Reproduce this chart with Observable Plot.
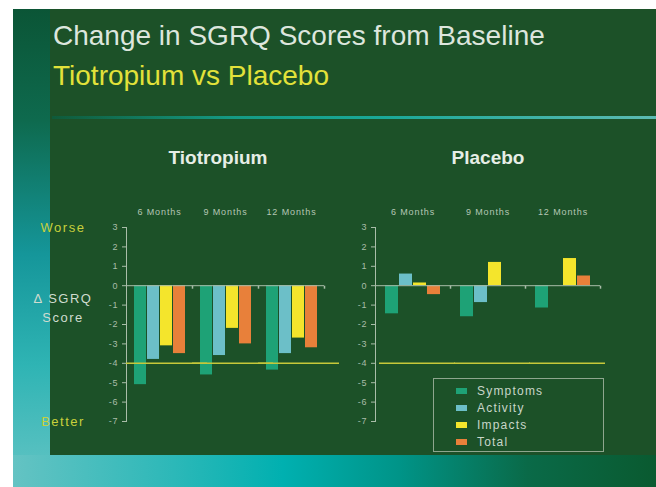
<!DOCTYPE html>
<html>
<head>
<meta charset="utf-8">
<script src="https://cdn.jsdelivr.net/npm/d3@7"></script>
<script src="https://cdn.jsdelivr.net/npm/@observablehq/plot@0.6"></script>
<style>
  html, body { margin: 0; padding: 0; background: #ffffff; }
  #page { position: relative; width: 656px; height: 487px; overflow: hidden; font-family: "Liberation Sans", Arial, sans-serif; }
  .abs { position: absolute; }
  #slide { left: 13px; top: 9px; width: 643px; height: 478px;
    background: linear-gradient(to right, #64c3c3 0%, #2cb8b8 25%, #00b0b0 42%, #009488 60%, #0a6a48 80%, #0a5a30 100%); }
  #strip { left: 13px; top: 9px; width: 40px; height: 446px;
    background: linear-gradient(to bottom, #0b5536 0%, #0e6a4e 25%, #15969a 55%, #2fb4b4 80%, #56c0c0 100%); }
  #panel { left: 50px; top: 9px; width: 606px; height: 446px; background: #1c5128; }
  #hline { left: 52px; top: 116px; width: 604px; height: 3px;
    background: linear-gradient(to right, #0f5a3a 0%, #159a84 30%, #1aa898 55%, #5cbab2 100%); }
  .title { left: 53px; top: 20px; font-size: 28px; color: #dde6dd; white-space: nowrap; }
  .subtitle { left: 53px; top: 60px; font-size: 28px; color: #e2e23a; white-space: nowrap; }
  .ptitle { font-size: 19px; font-weight: bold; color: #e6eee6; white-space: nowrap; transform: translate(-50%, -50%); }
  .side { font-size: 13px; letter-spacing: 1.5px; white-space: nowrap; transform: translate(-50%, -50%); text-align: center; }
  .plot { position: absolute; }
  .plot svg text { letter-spacing: 0.9px; }
  #legend { left: 433px; top: 378px; width: 171px; height: 74px; border: 1.5px solid #8ea68e; box-sizing: border-box; }
  .lrow { position: absolute; left: 22px; height: 17px; display: flex; align-items: center; font-size: 12px; letter-spacing: 1.2px; color: #c8d6c8; white-space: nowrap; }
  .sw { width: 11px; height: 6px; margin-right: 10px; }
</style>
</head>
<body>
<div id="page">
  <div id="slide" class="abs"></div>
  <div id="strip" class="abs"></div>
  <div id="panel" class="abs"></div>
  <div id="hline" class="abs"></div>
  <div class="abs title">Change in SGRQ Scores from Baseline</div>
  <div class="abs subtitle">Tiotropium vs Placebo</div>
  <div class="abs ptitle" style="left:218px; top:158px;">Tiotropium</div>
  <div class="abs ptitle" style="left:488px; top:158px;">Placebo</div>
  <div class="abs side" style="left:63px; top:227px; color:#c8d03c;">Worse</div>
  <div class="abs side" style="left:63px; top:298px; color:#cfdccf;">Δ SGRQ</div>
  <div class="abs side" style="left:63px; top:317px; color:#cfdccf;">Score</div>
  <div class="abs side" style="left:63px; top:421px; color:#c8d03c;">Better</div>
  <div id="left" class="plot" style="left:50px; top:200px;"></div>
  <div id="right" class="plot" style="left:330px; top:200px;"></div>
  <div id="legend" class="abs"></div>
</div>
<script>
// ---- data ----
const months = ["6 Months", "9 Months", "12 Months"];
const series = ["Symptoms", "Activity", "Impacts", "Total"];
const seriesColors = ["#1ea276", "#6cbfc8", "#f4e52c", "#e8803a"];
const yTicks = [3, 2, 1, 0, -1, -2, -3, -4, -5, -6, -7];
const referenceValue = [-4];

// Tiotropium (values per month)
const tioSymptoms = [-5.1, -4.6, -4.35];
const tioActivity = [-3.8, -3.6, -3.5];
const tioImpacts  = [-3.1, -2.2, -2.7];
const tioTotal    = [-3.5, -3.0, -3.2];

// Placebo (values per month)
const plaSymptoms = [-1.45, -1.6, -1.15];
const plaActivity = [0.6, -0.87, 0];
const plaImpacts  = [0.14, 1.2, 1.4];
const plaTotal    = [-0.46, 0, 0.5];

function rows(arrays) {
  const out = [];
  months.forEach((m, i) => series.forEach((s, j) => out.push({month: m, series: s, value: arrays[j][i]})));
  return out;
}

const axisColor = "#a9bda9";
const tickSymbol = {draw(ctx) { ctx.moveTo(0, 0); ctx.lineTo(0, 3); }};

function panel(data, o) {
  return Plot.plot({
    width: 300, height: 240,
    marginLeft: o.marginLeft, marginRight: o.marginRight, marginTop: 27, marginBottom: 19,
    style: {background: "transparent", fontFamily: "Liberation Sans, Arial, sans-serif", overflow: "visible"},
    fx: {domain: months, padding: 0},
    x: {domain: series, paddingInner: o.pi, paddingOuter: o.po, align: 0.5, axis: null},
    y: {domain: [-7, 3]},
    color: {domain: series, range: seriesColors},
    marks: [
      Plot.axisFx({anchor: "top", tickSize: 0, tickPadding: 13, label: null, fontSize: 9, color: "#b4c6b4"}),
      Plot.axisY({ticks: yTicks, tickFormat: d => String(d), tickSize: 4, tickPadding: 4, label: null, fontSize: 9, color: "#a9bda9"}),
      Plot.frame({anchor: "left", facetAnchor: "left", stroke: axisColor}),
      Plot.barY(data, {fx: "month", x: "series", y: "value", fill: "series"}),
      Plot.ruleY([0], {stroke: axisColor, strokeWidth: 1}),
      Plot.dot([0], {y: d => d, frameAnchor: "right", symbol: tickSymbol, stroke: axisColor, r: 3}),
      Plot.ruleY(referenceValue, {stroke: "#c6c83a", strokeWidth: 1.6, insetLeft: o.refInsetLeft, insetRight: o.refInsetRight})
    ]
  });
}

document.getElementById("left").appendChild(panel(rows([tioSymptoms, tioActivity, tioImpacts, tioTotal]),
  {marginLeft: 75, marginRight: 25, pi: 0.1, po: 0.55, refInsetLeft: 0, refInsetRight: -15}));
document.getElementById("right").appendChild(panel(rows([plaSymptoms, plaActivity, plaImpacts, plaTotal]),
  {marginLeft: 44, marginRight: 30, pi: 0.05, po: 0.6, refInsetLeft: 4, refInsetRight: -5}));

// legend
const legend = document.getElementById("legend");
series.forEach((s, i) => {
  const row = document.createElement("div");
  row.className = "lrow";
  row.style.top = (3 + i * 17) + "px";
  const sw = document.createElement("span");
  sw.className = "sw";
  sw.style.background = seriesColors[i];
  row.appendChild(sw);
  row.appendChild(document.createTextNode(s));
  legend.appendChild(row);
});
</script>
</body>
</html>
